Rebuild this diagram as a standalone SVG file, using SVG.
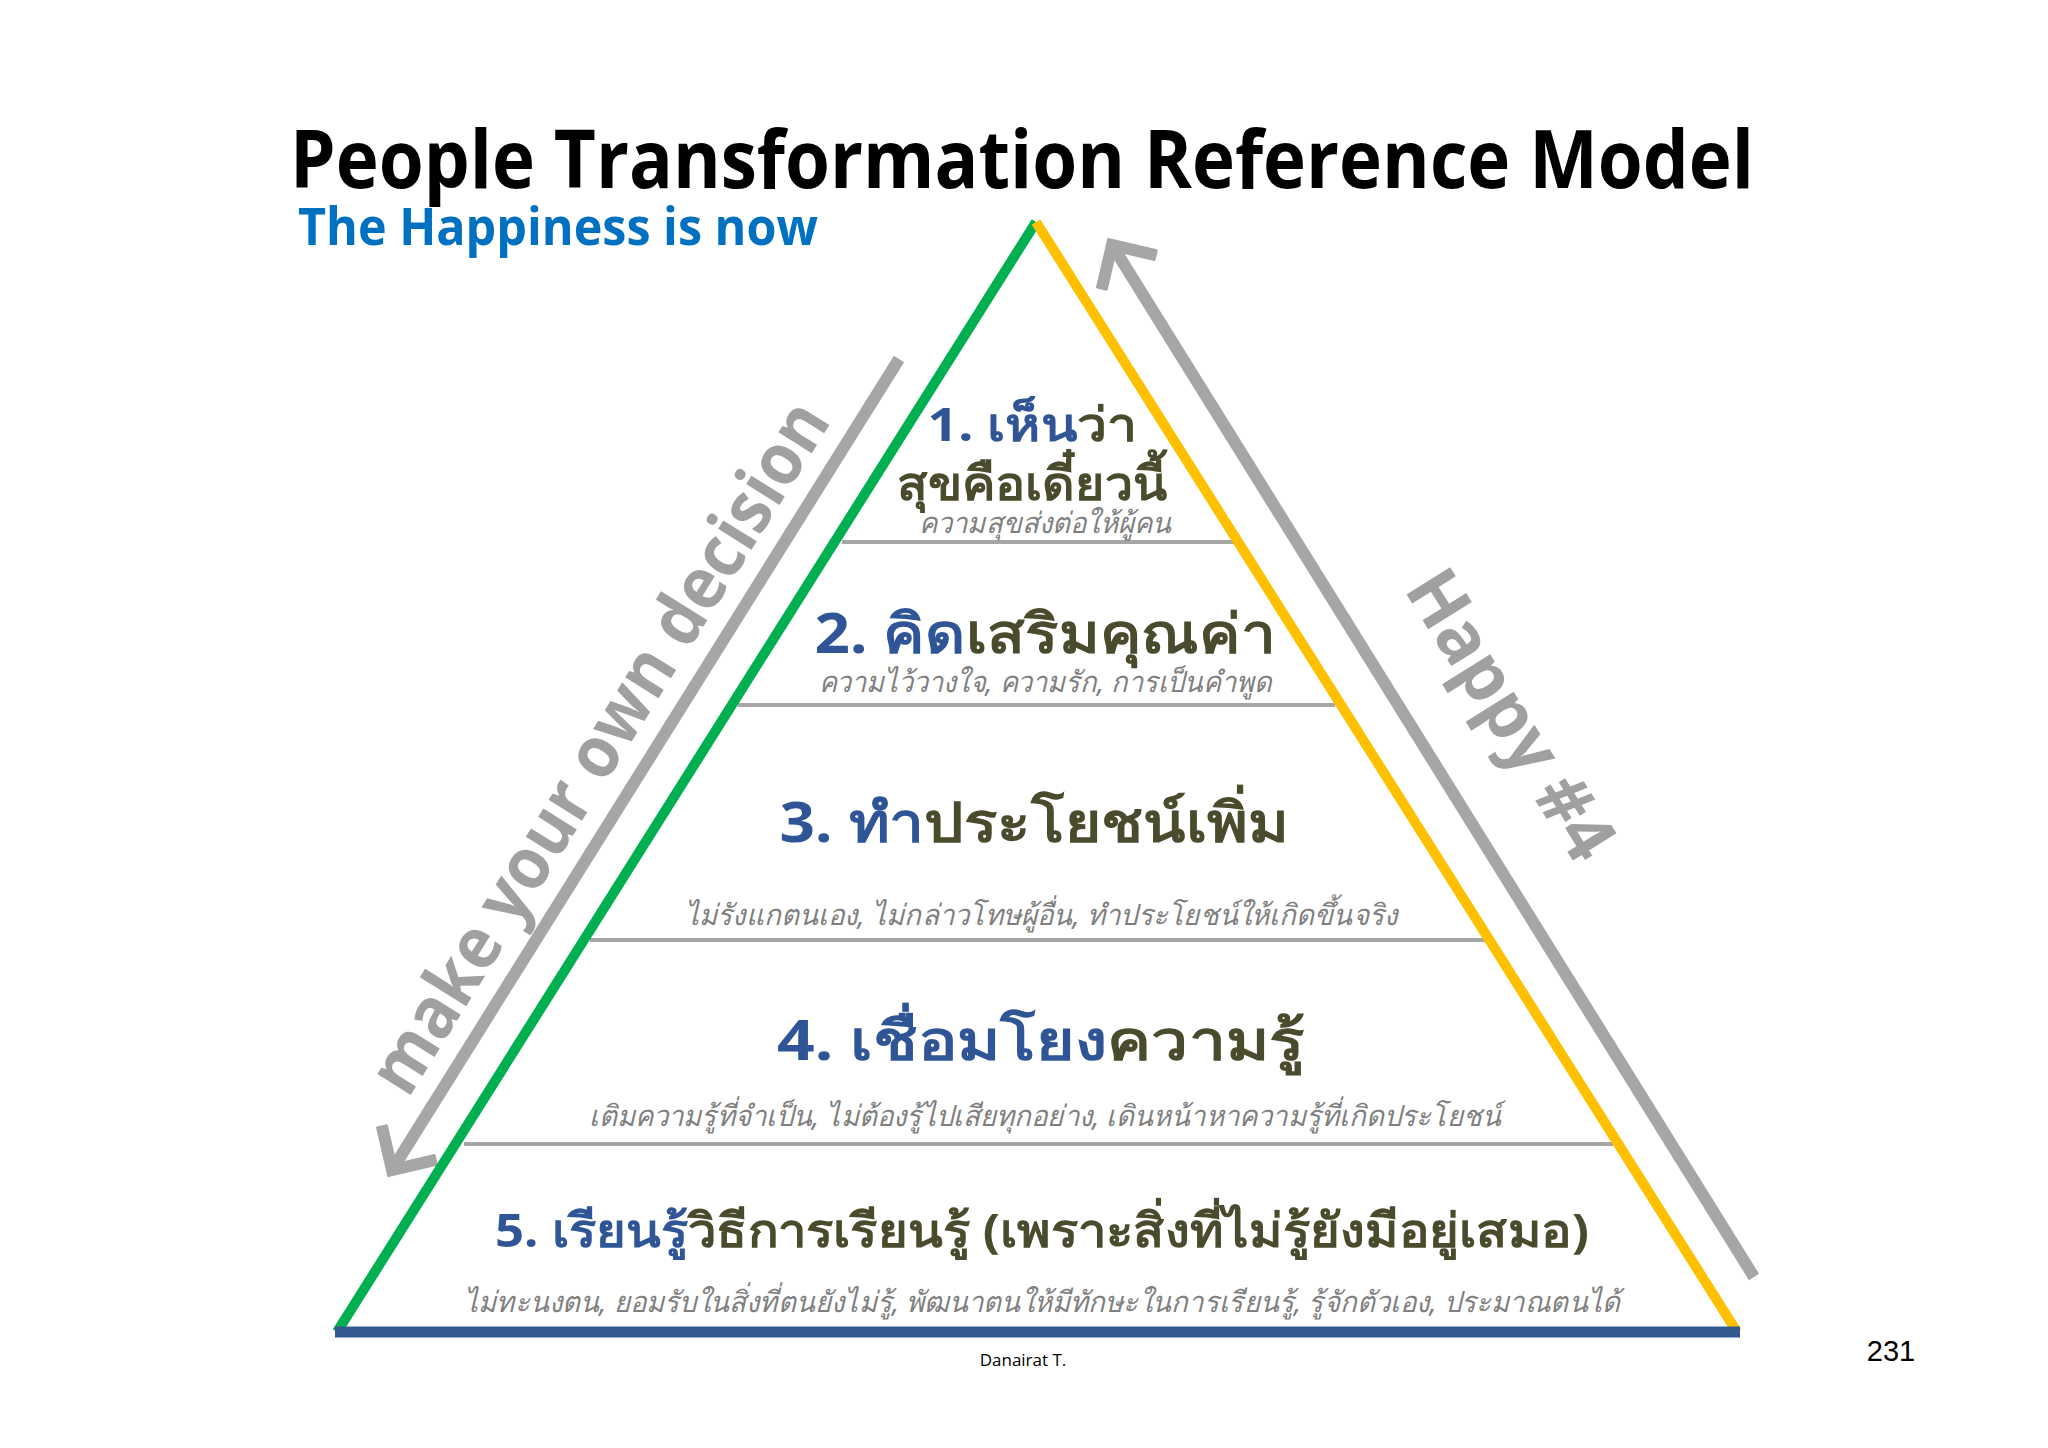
<svg xmlns="http://www.w3.org/2000/svg" width="2048" height="1448" viewBox="0 0 2048 1448">
<style>
.t{font-family:"Open Sans","Noto Sans",sans-serif;font-weight:bold}
.h{font-family:"Noto Sans","Open Sans",sans-serif;font-weight:bold;fill:#4a4a2c;text-anchor:middle}
.b{fill:#2f5597}
.s{font-family:"Noto Sans","Open Sans",sans-serif;font-style:italic;fill:#7f7f7f;font-size:29px;text-anchor:middle}
.g{stroke:#a6a6a6;stroke-width:4}
.arr{stroke:#a6a6a6;stroke-width:12;fill:none}
</style>
<defs>
<marker id="ah" markerWidth="6" markerHeight="6" refX="3" refY="3" orient="auto" markerUnits="strokeWidth">
<path d="M0.3,0.3 L3,3 L0.3,5.7" fill="none" stroke="#a6a6a6" stroke-width="1"/>
</marker>
</defs>
<rect width="2048" height="1448" fill="#fff"/>
<text class="t" x="290" y="188" font-size="80" textLength="1464" lengthAdjust="spacingAndGlyphs">People Transformation Reference Model</text>
<text class="t" x="298" y="245" font-size="52" fill="#0070c0" textLength="520" lengthAdjust="spacingAndGlyphs">The Happiness is now</text>
<g id="connectors">
<line class="arr" x1="899" y1="359" x2="392" y2="1170" marker-end="url(#ah)"/>
<line class="arr" x1="1754" y1="1277" x2="1112" y2="245" marker-end="url(#ah)"/>
<line class="g" x1="842" y1="542" x2="1234" y2="542"/>
<line class="g" x1="738" y1="705" x2="1335" y2="705"/>
<line class="g" x1="590" y1="940" x2="1485" y2="940"/>
<line class="g" x1="464" y1="1144" x2="1613" y2="1144"/>
</g>
<g id="pyramid">
<line x1="1036" y1="222" x2="337" y2="1332" stroke="#00b050" stroke-width="10"/>
<line x1="1036" y1="222" x2="1737" y2="1332" stroke="#ffc000" stroke-width="10"/>
<line x1="335" y1="1332" x2="1740" y2="1332" stroke="#335a8e" stroke-width="11"/>
</g>
<text class="t" font-size="72" fill="#a0a0a0" text-anchor="middle" transform="translate(620,760) rotate(-58)" textLength="800" lengthAdjust="spacingAndGlyphs">make your own decision</text>
<text class="t" font-size="72" fill="#a0a0a0" text-anchor="middle" transform="translate(1490,728) rotate(58)" textLength="327" lengthAdjust="spacingAndGlyphs">Happy #4</text>
<g id="level1">
<text class="h" x="1032" y="441" font-size="47" textLength="209" lengthAdjust="spacingAndGlyphs"><tspan class="b">1. เห็น</tspan>ว่า</text>
<text class="h" x="1032" y="500" font-size="47" textLength="270" lengthAdjust="spacingAndGlyphs">สุขคือเดี๋ยวนี้</text>
<text class="s" x="1045" y="533" textLength="252" lengthAdjust="spacingAndGlyphs">ความสุขส่งต่อให้ผู้คน</text>
</g>
<g id="level2">
<text class="h" x="1045" y="653" font-size="55" textLength="461" lengthAdjust="spacingAndGlyphs"><tspan class="b">2. คิด</tspan>เสริมคุณค่า</text>
<text class="s" x="1045" y="692" textLength="453" lengthAdjust="spacingAndGlyphs">ความไว้วางใจ, ความรัก, การเป็นคำพูด</text>
</g>
<g id="level3">
<text class="h" x="1034" y="842" font-size="55" textLength="509" lengthAdjust="spacingAndGlyphs"><tspan class="b">3. ทำ</tspan>ประโยชน์เพิ่ม</text>
<text class="s" x="1041" y="925" textLength="713" lengthAdjust="spacingAndGlyphs">ไม่รังแกตนเอง, ไม่กล่าวโทษผู้อื่น, ทำประโยชน์ให้เกิดขึ้นจริง</text>
</g>
<g id="level4">
<text class="h" x="1041" y="1060" font-size="55" textLength="528" lengthAdjust="spacingAndGlyphs"><tspan class="b">4. เชื่อมโยง</tspan>ความรู้</text>
<text class="s" x="1045" y="1126" textLength="912" lengthAdjust="spacingAndGlyphs">เติมความรู้ที่จำเป็น, ไม่ต้องรู้ไปเสียทุกอย่าง, เดินหน้าหาความรู้ที่เกิดประโยชน์</text>
</g>
<g id="level5">
<text class="h" x="1042" y="1247" font-size="47" textLength="1094" lengthAdjust="spacingAndGlyphs"><tspan class="b">5. เรียนรู้</tspan>วิธีการเรียนรู้ (เพราะสิ่งที่ไม่รู้ยังมีอยู่เสมอ)</text>
<text class="s" x="1042" y="1312" textLength="1156" lengthAdjust="spacingAndGlyphs">ไม่ทะนงตน, ยอมรับในสิ่งที่ตนยังไม่รู้, พัฒนาตนให้มีทักษะในการเรียนรู้, รู้จักตัวเอง, ประมาณตนได้</text>
</g>
<text x="1023" y="1366" font-family="Open Sans, sans-serif" font-size="17" text-anchor="middle">Danairat T.</text>
<text x="1891" y="1361" font-family="Liberation Sans, sans-serif" font-size="29" text-anchor="middle">231</text>
</svg>
